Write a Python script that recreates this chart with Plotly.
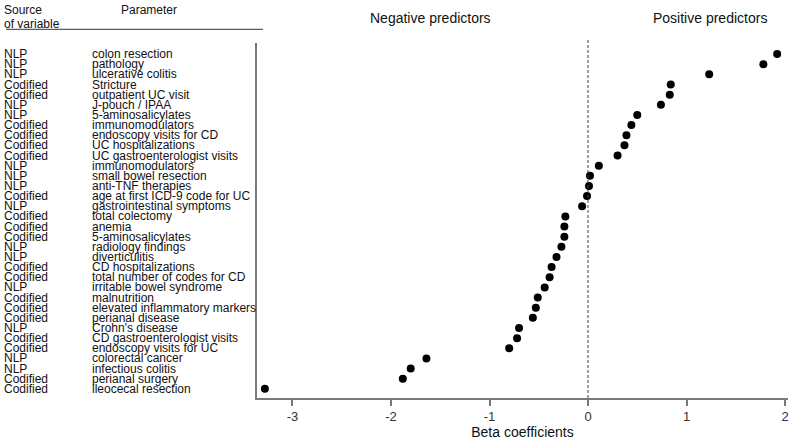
import plotly.graph_objects as go

# rows listed top to bottom
sources = [
    "NLP", "NLP", "NLP", "Codified", "Codified", "NLP", "NLP", "Codified",
    "Codified", "Codified", "Codified", "NLP", "NLP", "NLP", "Codified", "NLP",
    "Codified", "Codified", "Codified", "NLP", "NLP", "Codified", "Codified", "NLP",
    "Codified", "Codified", "Codified", "NLP", "Codified", "Codified", "NLP", "NLP",
    "Codified", "Codified",
]
parameters = [
    "colon resection", "pathology", "ulcerative colitis", "Stricture",
    "outpatient UC visit", "J-pouch / IPAA", "5-aminosalicylates", "immunomodulators",
    "endoscopy visits for CD", "UC hospitalizations", "UC gastroenterologist visits",
    "immunomodulators", "small bowel resection", "anti-TNF therapies",
    "age at first ICD-9 code for UC", "gastrointestinal symptoms", "total colectomy",
    "anemia", "5-aminosalicylates", "radiology findings", "diverticulitis",
    "CD hospitalizations", "total number of codes for CD", "irritable bowel syndrome",
    "malnutrition", "elevated inflammatory markers", "perianal disease",
    "Crohn's disease", "CD gastroenterologist visits", "endoscopy visits for UC",
    "colorectal cancer", "infectious colitis", "perianal surgery", "ileocecal resection",
]
betas = [
    1.92, 1.78, 1.23, 0.84, 0.83, 0.74, 0.50, 0.44, 0.39, 0.37, 0.30,
    0.11, 0.02, 0.01, -0.01, -0.06, -0.23, -0.24, -0.24, -0.27, -0.32,
    -0.37, -0.39, -0.44, -0.51, -0.53, -0.56, -0.70, -0.72, -0.80,
    -1.64, -1.80, -1.88, -3.28,
]
x_ticks = [-3, -2, -1, 0, 1, 2]

n = len(parameters)
rows = [n - 1 - i for i in range(n)]

FONT = "Liberation Sans, Arial, sans-serif"
TEXT = "#111111"
AXIS = "#7a7a7a"

fig = go.Figure()
fig.add_trace(go.Scatter(
    x=betas, y=rows, mode="markers",
    marker=dict(color="black", size=8),
    hoverinfo="skip", showlegend=False,
))

# left-hand table of labels
lab = dict(size=12, color=TEXT, family=FONT)
for src, par, r in zip(sources, parameters, rows):
    fig.add_annotation(x=-0.4802, y=r, xref="paper", yref="y", text=src,
                       showarrow=False, xanchor="left", yanchor="middle", font=lab)
    fig.add_annotation(x=-0.3145, y=r, xref="paper", yref="y", text=par,
                       showarrow=False, xanchor="left", yanchor="middle", font=lab)

fig.add_annotation(x=-0.4802, y=1.093, xref="paper", yref="paper", text="Source",
                   showarrow=False, xanchor="left", yanchor="middle", font=lab)
fig.add_annotation(x=-0.4802, y=1.054, xref="paper", yref="paper", text="of variable",
                   showarrow=False, xanchor="left", yanchor="middle", font=lab)
fig.add_annotation(x=-0.2034, y=1.093, xref="paper", yref="paper", text="Parameter",
                   showarrow=False, xanchor="center", yanchor="middle", font=lab)
fig.add_shape(type="line", xref="paper", yref="paper",
              x0=-0.4727, x1=0.0113, y0=1.0386, y1=1.0386,
              line=dict(color="#333333", width=1))

top = dict(size=14, color=TEXT, family=FONT)
fig.add_annotation(x=-1.6, y=1.0704, xref="x", yref="paper", text="Negative predictors",
                   showarrow=False, xanchor="center", yanchor="middle", font=top)
fig.add_annotation(x=1.24, y=1.0704, xref="x", yref="paper", text="Positive predictors",
                   showarrow=False, xanchor="center", yanchor="middle", font=top)

# dashed reference line at zero
fig.add_shape(type="line", xref="x", yref="paper", x0=0, x1=0, y0=0, y1=1.01,
              line=dict(color="#444444", width=1, dash="3px,2px"))

fig.update_layout(
    width=800, height=442,
    margin=dict(l=257, r=12, t=43, b=44),
    paper_bgcolor="white", plot_bgcolor="white",
    font=dict(family=FONT, color=TEXT),
)
fig.update_xaxes(
    range=[-3.36, 2.03], tickvals=x_ticks, ticktext=[str(v) for v in x_ticks],
    showgrid=False, zeroline=False, automargin=False,
    showline=True, linecolor=AXIS, linewidth=1.5,
    ticks="outside", ticklen=6, tickcolor=AXIS, tickwidth=1.5,
    tickfont=dict(size=13, color="#333333", family=FONT),
    title=dict(text="Beta coefficients", standoff=4,
               font=dict(size=14, color=TEXT, family=FONT)),
)
fig.update_yaxes(
    range=[-0.9, n + 0.09], showgrid=False, zeroline=False, automargin=False,
    showline=True, linecolor=AXIS, linewidth=1.5,
    showticklabels=False, ticks="",
)

fig.write_html("out.html", config={"displayModeBar": False},
               post_script="document.body.style.margin='0';")
